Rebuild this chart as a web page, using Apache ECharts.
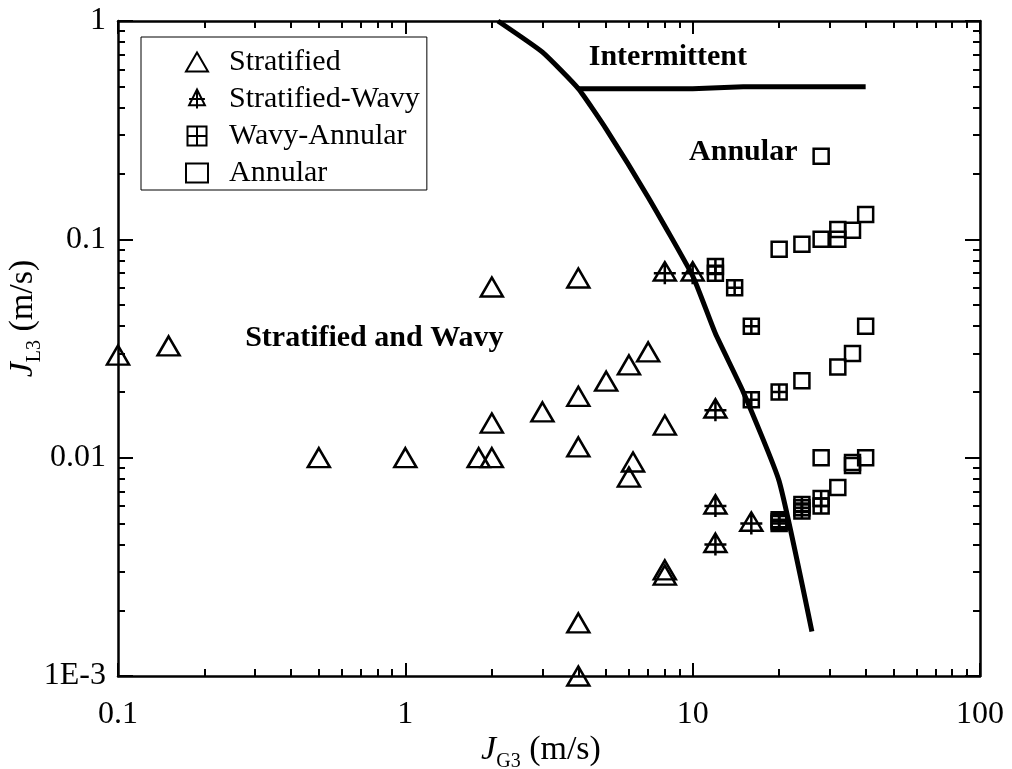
<!DOCTYPE html>
<html>
<head>
<meta charset="utf-8">
<script src="https://cdn.jsdelivr.net/npm/echarts@6/dist/echarts.min.js"></script>
<style>
  html, body { margin: 0; padding: 0; background: #fff; }
  #chart { width: 1012px; height: 769px; }
</style>
</head>
<body>
<div id="chart"></div>
<script>
// flow pattern points
const stratifiedX = [0.1, 0.15, 0.5, 1, 1.8, 2, 2, 2, 3, 4, 4, 4, 4, 4, 5, 6, 6, 6.2, 7, 8, 8, 8];
const stratifiedY = [0.0295, 0.0325, 0.01, 0.01, 0.01, 0.01, 0.0144, 0.0605, 0.0162, 0.0665, 0.0191, 0.0112, 0.00175, 0.001, 0.0224, 0.0266, 0.00815, 0.00955, 0.0305, 0.0141, 0.00306, 0.0029];

const stratWavyX = [8, 10, 12, 12, 12, 16];
const stratWavyY = [0.07, 0.07, 0.0165, 0.006, 0.004, 0.005];

const wavyAnnularX = [12, 12, 14, 16, 16, 20, 20, 20, 20, 24, 24, 24, 28, 28];
const wavyAnnularY = [0.075, 0.07, 0.06, 0.04, 0.0184, 0.02, 0.005, 0.0051, 0.0052, 0.0057, 0.0059, 0.0061, 0.006, 0.0065];

const annularX = [28, 20, 24, 28, 32, 32, 36, 40, 40, 36, 32, 24, 28, 40, 36, 36, 32];
const annularY = [0.24, 0.09, 0.095, 0.1, 0.1, 0.111, 0.11, 0.13, 0.04, 0.03, 0.026, 0.0225, 0.01, 0.01, 0.0095, 0.0092, 0.0073];

// transition boundaries
const boundaryX = [2.1, 3, 4, 5, 7, 10, 12, 15, 20, 26];
const boundaryY = [1.0, 0.72, 0.49, 0.32, 0.156, 0.068, 0.037, 0.02, 0.0078, 0.0016];
const intermX = [4, 10, 15, 40];
const intermY = [0.49, 0.49, 0.5, 0.5];

// region names, placed in data units
const regionNames = ['Intermittent', 'Annular', 'Stratified and Wavy'];
const regionX = [8.2, 15, 0.78];
const regionY = [0.68, 0.25, 0.0353];

// ticks
const xTickValues = [0.1, 1, 10, 100];
const xTickLabels = ['0.1', '1', '10', '100'];
const yTickValues = [0.001, 0.01, 0.1, 1];
const yTickLabels = ['1E-3', '0.01', '0.1', '1'];
const xMinorTicks = [0.2, 0.3, 0.4, 0.5, 0.6, 0.7, 0.8, 0.9, 2, 3, 4, 5, 6, 7, 8, 9, 20, 30, 40, 50, 60, 70, 80, 90];
const yMinorTicks = [0.002, 0.003, 0.004, 0.005, 0.006, 0.007, 0.008, 0.009, 0.02, 0.03, 0.04, 0.05, 0.06, 0.07, 0.08, 0.09, 0.2, 0.3, 0.4, 0.5, 0.6, 0.7, 0.8, 0.9];

const serif = 'Liberation Serif';
const zip = (xs, ys) => xs.map((x, i) => [x, ys[i]]);

function tickLabel(values, labels) {
  return function (v) {
    let best = 0;
    for (let i = 1; i < values.length; i++) {
      if (Math.abs(Math.log10(values[i] / v)) < Math.abs(Math.log10(values[best] / v))) best = i;
    }
    return labels[best];
  };
}

function axisPair(dim, pos, withLabels) {
  const isX = dim === 'x';
  const min = isX ? 0.1 : 0.001;
  const max = isX ? 100 : 1;
  const major = {
    type: 'log', logBase: 10, position: pos, min: min, max: max,
    axisLine: { show: true, lineStyle: { color: '#000', width: 2.5 } },
    axisTick: { show: true, inside: true, length: isX ? 13 : 15, customValues: isX ? xTickValues : yTickValues,
      lineStyle: { color: '#000', width: 2 } },
    axisLabel: { show: withLabels, customValues: isX ? xTickValues : yTickValues,
      formatter: isX ? tickLabel(xTickValues, xTickLabels) : tickLabel(yTickValues, yTickLabels),
      fontFamily: serif, fontSize: 32, color: '#000', margin: isX ? 23 : 12 },
    splitLine: { show: false }
  };
  const minor = {
    type: 'log', logBase: 10, position: pos, min: min, max: max,
    axisLine: { show: false },
    axisTick: { show: true, inside: true, length: 7, customValues: isX ? xMinorTicks : yMinorTicks,
      lineStyle: { color: '#000', width: 2 } },
    axisLabel: { show: false },
    splitLine: { show: false }
  };
  return [major, minor];
}

const titleRich = {
  i: { fontFamily: serif, fontSize: 34, fontStyle: 'italic', color: '#000', lineHeight: 44 },
  s: { fontFamily: serif, fontSize: 20, color: '#000', verticalAlign: 'bottom', lineHeight: 20 },
  n: { fontFamily: serif, fontSize: 34, color: '#000', lineHeight: 44 }
};

const xAxes = axisPair('x', 'bottom', true).concat(axisPair('x', 'top', false));
xAxes[0].name = '{i|J}{s|G3}{n| (m/s)}';
xAxes[0].nameLocation = 'middle';
xAxes[0].nameGap = 52;
xAxes[0].nameMoveOverlap = false;
xAxes[0].nameTextStyle = { rich: titleRich, padding: [0, 16, 0, 0] };

const yAxes = axisPair('y', 'left', true).concat(axisPair('y', 'right', false));
yAxes[0].name = '{i|J}{s|L3}{n| (m/s)}';
yAxes[0].nameLocation = 'middle';
yAxes[0].nameGap = 73;
yAxes[0].nameMoveOverlap = false;
yAxes[0].nameTextStyle = { rich: titleRich, padding: [0, 0, 0, 60] };

const hollow = { color: 'rgba(0,0,0,0)', borderColor: '#000', borderWidth: 2.5, opacity: 1 };
const triPlus = 'path://M5,0 L10,10 L0,10 Z M5,0 L5,12 M0,6 L10,6';
const boxPlus = 'path://M0,0 L10,0 L10,10 L0,10 Z M5,0 L5,10 M0,5 L10,5';

const chart = echarts.init(document.getElementById('chart'));
chart.setOption({
  animation: false,
  backgroundColor: '#fff',
  grid: { left: 118, top: 21, right: 32, bottom: 93, outerBoundsMode: 'none', containLabel: false },
  legend: {
    data: ['Stratified', 'Stratified-Wavy', 'Wavy-Annular', 'Annular'],
    orient: 'vertical', left: 141, top: 37,
    padding: [10, 7, 2, 44],
    itemWidth: 22, itemHeight: 19, itemGap: 7,
    borderColor: '#000', borderWidth: 1,
    selectedMode: false,
    itemStyle: { borderWidth: 2, opacity: 1 },
    textStyle: { fontFamily: serif, fontSize: 30, color: '#000', padding: [0, 0, 0, 16] }
  },
  xAxis: xAxes,
  yAxis: yAxes,
  series: [
    { name: 'Stratified', type: 'scatter', symbol: 'triangle', symbolSize: [22, 19],
      itemStyle: hollow, data: zip(stratifiedX, stratifiedY), clip: false, z: 3, emphasis: { disabled: true } },
    { name: 'Stratified-Wavy', type: 'scatter', symbol: triPlus, symbolSize: [22, 22],
      itemStyle: hollow, data: zip(stratWavyX, stratWavyY), z: 3, emphasis: { disabled: true } },
    { name: 'Wavy-Annular', type: 'scatter', symbol: boxPlus, symbolSize: 15,
      itemStyle: hollow, data: zip(wavyAnnularX, wavyAnnularY), z: 3, emphasis: { disabled: true } },
    { name: 'Annular', type: 'scatter', symbol: 'rect', symbolSize: 15,
      itemStyle: hollow, data: zip(annularX, annularY), z: 3, emphasis: { disabled: true } },
    { name: 'boundary', type: 'line', data: zip(boundaryX, boundaryY), symbol: 'none', smooth: 0.15,
      lineStyle: { color: '#000', width: 5 }, z: 4, silent: true },
    { name: 'intermittent', type: 'line', data: zip(intermX, intermY), symbol: 'none',
      lineStyle: { color: '#000', width: 5 }, z: 4, silent: true },
    { name: 'regions', type: 'scatter', symbolSize: 0, silent: true, z: 5,
      itemStyle: { opacity: 1 },
      data: regionNames.map((n, i) => ({ name: n, value: [regionX[i], regionY[i]] })),
      label: { show: true, position: 'inside', formatter: p => p.name, textBorderWidth: 0,
        fontFamily: serif, fontWeight: 'bold', fontSize: 30, color: '#000' } }
  ]
});
</script>
</body>
</html>
